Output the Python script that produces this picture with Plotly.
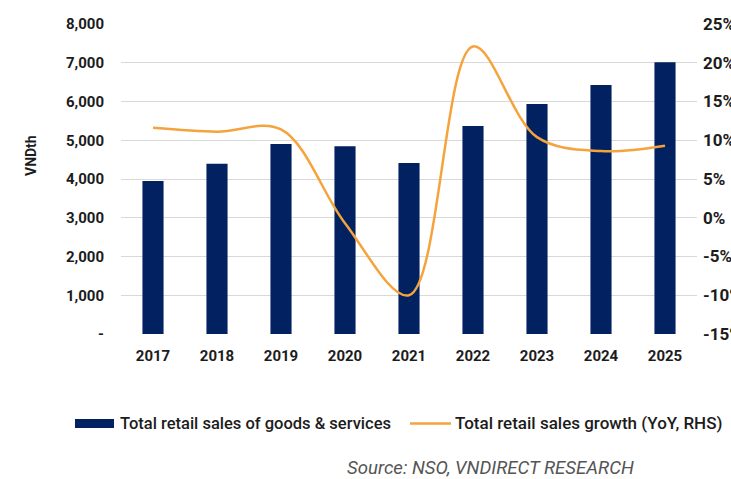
import plotly.graph_objects as go

years = ["2017", "2018", "2019", "2020", "2021", "2022", "2023", "2024", "2025"]
retail_sales = [3950, 4395, 4903, 4843, 4410, 5370, 5935, 6425, 7010]
growth_pct = [11.6, 11.1, 11.4, -0.7, -10.0, 22.1, 10.4, 8.6, 9.3]

left_ticks = [0, 1000, 2000, 3000, 4000, 5000, 6000, 7000, 8000]
left_ticktext = ["-", "1,000", "2,000", "3,000", "4,000", "5,000", "6,000", "7,000", "8,000"]
right_ticks = [-15, -10, -5, 0, 5, 10, 15, 20, 25]
right_ticktext = ["-15%", "-10%", "-5%", "0%", "5%", "10%", "15%", "20%", "25%"]

bar_name = "Total retail sales of goods & services"
line_name = "Total retail sales growth (YoY, RHS)"
source_text = "Source: NSO, VNDIRECT RESEARCH"
y_title = "VNDth"

BAR_COLOR = "#012160"
LINE_COLOR = "#F5A33C"
TEXT_COLOR = "#1c1c1c"
FONT = "Roboto"

W, H = 731, 479
L, R, T, B = 121, 34, 24, 145
PW, PH = W - L - R, H - T - B


def px_x(px):
    return (px - L) / PW


def px_y(py):
    return (H - B - py) / PH


fig = go.Figure()
fig.add_trace(go.Bar(
    x=years, y=retail_sales, name=bar_name,
    marker=dict(color=BAR_COLOR, line=dict(width=0)),
    width=0.33, showlegend=False,
))
fig.add_trace(go.Scatter(
    x=years, y=growth_pct, name=line_name, yaxis="y2",
    mode="lines", line=dict(color=LINE_COLOR, width=2.5, shape="spline", smoothing=1.0),
    showlegend=False,
))

tick_font = dict(family=FONT, size=15, color=TEXT_COLOR, weight=700)
right_tick_font = dict(family=FONT, size=17, color=TEXT_COLOR, weight=700)

fig.update_layout(
    width=W, height=H,
    margin=dict(l=L, r=R, t=T, b=B, autoexpand=False),
    paper_bgcolor="white", plot_bgcolor="white",
    font=dict(family=FONT, color=TEXT_COLOR),
    bargap=0.67,
    xaxis=dict(
        type="category", tickfont=tick_font, showgrid=False, showline=False,
        ticks="", ticklabelstandoff=11, automargin=False,
    ),
    yaxis=dict(
        range=[0, 8000], tickvals=left_ticks, ticktext=left_ticktext,
        tickfont=tick_font, showgrid=True, gridcolor="#D9D9D9", gridwidth=1,
        zeroline=False, showline=False, ticks="", ticklabelstandoff=16,
        automargin=False,
    ),
    yaxis2=dict(
        range=[-15, 25], tickvals=right_ticks, ticktext=right_ticktext,
        overlaying="y", side="right", tickfont=right_tick_font, showgrid=False,
        zeroline=False, showline=False, ticks="", ticklabelstandoff=5,
        automargin=False,
    ),
)

# Y-axis title
fig.add_annotation(
    x=px_x(31), y=px_y(156), xref="paper", yref="paper", text=y_title,
    textangle=-90, showarrow=False, xanchor="center", yanchor="middle",
    font=dict(family=FONT, size=14, color=TEXT_COLOR, weight=700),
)

# Custom legend
leg_y = 423.5
fig.add_shape(type="rect", xref="paper", yref="paper",
              x0=px_x(75), x1=px_x(114), y0=px_y(428), y1=px_y(419),
              fillcolor=BAR_COLOR, line=dict(width=0))
fig.add_annotation(x=px_x(118), y=px_y(leg_y), xref="paper", yref="paper",
                   text=bar_name, showarrow=False, xanchor="left", yanchor="middle",
                   font=dict(family=FONT, size=16.5, color=TEXT_COLOR, weight=500))
fig.add_shape(type="line", xref="paper", yref="paper",
              x0=px_x(410), x1=px_x(451), y0=px_y(leg_y), y1=px_y(leg_y),
              line=dict(color=LINE_COLOR, width=2.5))
fig.add_annotation(x=px_x(453), y=px_y(leg_y), xref="paper", yref="paper",
                   text=line_name, showarrow=False, xanchor="left", yanchor="middle",
                   font=dict(family=FONT, size=17, color=TEXT_COLOR, weight=500))

# Source
fig.add_annotation(x=px_x(345), y=px_y(468), xref="paper", yref="paper",
                   text="<i>" + source_text + "</i>", showarrow=False,
                   xanchor="left", yanchor="middle",
                   font=dict(family=FONT, size=18.6, color="#555555"))

fig.write_html(
    "out.html",
    config={"displayModeBar": False},
    post_script="document.body.style.margin='0';document.body.style.overflow='hidden';",
)
